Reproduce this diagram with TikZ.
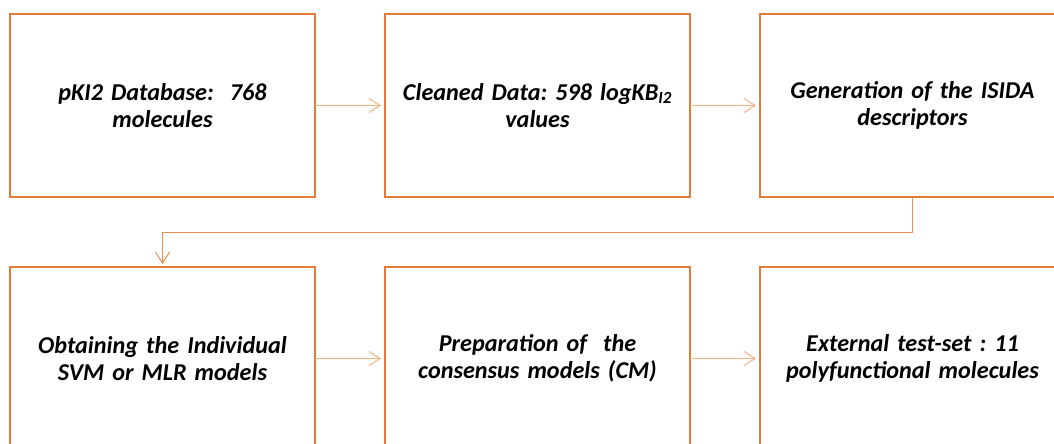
\documentclass[tikz,border=0pt]{standalone}
\usepackage{fontspec}
\setmainfont{Carlito}
\usetikzlibrary{arrows.meta}
\definecolor{boxedge}{HTML}{E07B39}
\definecolor{flow}{HTML}{F4B183}
\definecolor{elbow}{HTML}{EE8E4F}
\tikzset{
  stepbox/.style={draw=boxedge, line width=1.6pt, minimum width=305pt, minimum height=183pt,
    inner sep=0pt, outer sep=0pt, align=center, text width=295pt,
    font=\fontsize{24.2}{27.5}\selectfont\bfseries\itshape\frenchspacing},
  flowarrow/.style={draw=flow, line width=1pt, -{Straight Barb[length=11pt,width=14pt]}, shorten >=4pt},
  elbowarrow/.style={draw=elbow, line width=1pt, -{Straight Barb[length=11pt,width=14pt]}, shorten >=3pt}
}
\begin{document}
\begin{tikzpicture}[x=1pt,y=-1pt]
  \useasboundingbox (0,0) rectangle (1054,444);
  % top row
  \node[stepbox] (b1) at (162.5,105.5) {pKI2 Database:\ \ 768\\molecules};
  \node[stepbox] (b2) at (537.5,105.5) {Cleaned Data: 598 logKB\textsubscript{I2}\\values};
  \node[stepbox] (b3) at (912.5,105.5) {Generation of the ISIDA\\descriptors};
  % bottom row
  \node[stepbox] (b4) at (162.5,358.5) {Obtaining the Individual\\SVM or MLR models};
  \node[stepbox] (b5) at (537.5,358.5) {Preparation of\ \ the\\consensus models (CM)};
  \node[stepbox] (b6) at (912.5,358.5) {External test-set : 11\\polyfunctional molecules};
  % connectors
  \draw[flowarrow] (b1.east) -- (b2.west);
  \draw[flowarrow] (b2.east) -- (b3.west);
  \draw[elbowarrow] (b3.south) -- ++(0,35) -| (b4.north);
  \draw[flowarrow] (b4.east) -- (b5.west);
  \draw[flowarrow] (b5.east) -- (b6.west);
\end{tikzpicture}
\end{document}
